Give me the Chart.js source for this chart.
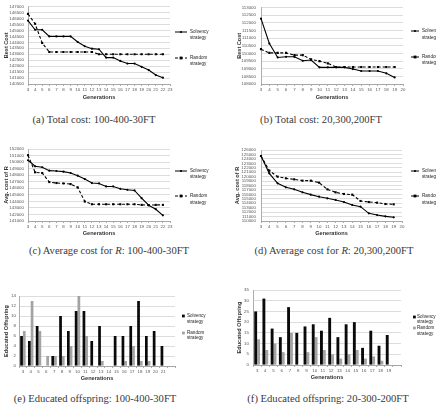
<!DOCTYPE html>
<html><head><meta charset="utf-8">
<script src="https://cdn.jsdelivr.net/npm/chart.js@4.4.1/dist/chart.umd.min.js"></script>
<style>
html,body{margin:0;padding:0;background:#fff}
body{width:436px;height:411px;position:relative;overflow:hidden}
canvas{position:absolute}
.cap{position:absolute;font-family:"Liberation Serif","Times New Roman",serif;font-size:10.6px;color:#3a3a3a;white-space:nowrap;transform:translate(-50%,-50%)}
</style></head><body>
<canvas id="ca" width="218" height="105" style="left:0;top:0"></canvas>
<canvas id="cb" width="218" height="105" style="left:218px;top:0"></canvas>
<canvas id="cc" width="218" height="100" style="left:0;top:140px"></canvas>
<canvas id="cd" width="218" height="100" style="left:218px;top:140px"></canvas>
<canvas id="ce" width="218" height="115" style="left:0;top:270px"></canvas>
<canvas id="cf" width="218" height="115" style="left:218px;top:270px"></canvas>
<div class="cap" style="left:94px;top:119px">(a) Total cost: 100-400-30FT</div>
<div class="cap" style="left:321px;top:119px">(b) Total cost: 20,300,200FT</div>
<div class="cap" style="left:109px;top:250px">(c) Average cost for <i>R</i>: 100-400-30FT</div>
<div class="cap" style="left:334px;top:250px">(d) Average cost for <i>R</i>: 20,300,200FT</div>
<div class="cap" style="left:95px;top:398px">(e) Educated offspring: 100-400-30FT</div>
<div class="cap" style="left:328px;top:398px">(f) Educated offspring: 20-300-200FT</div>
<script>
// ---------- data ----------
const seriesNames = ['Solvency strategy', 'Random strategy'];

const genA = ['3','4','5','6','7','8','9','10','11','12','13','14','15','16','17','18','19','20','21','22','23'];
const solvA = [145830,145060,145060,144500,144500,144500,144500,144030,143670,143470,143420,142720,142720,142440,142220,142220,141940,141670,141250,141030];
const randA = [146390,145560,143940,143190,143190,143190,143190,143190,143190,143190,143000,143000,143000,143000,143000,143000,143000,143000,143000,143000];

const genB = ['3','4','5','6','7','8','9','10','11','12','13','14','15','16','17','18','19','20'];
const solvB = [112280,110650,109740,109780,109780,109520,109570,109090,109090,109090,109090,108980,108850,108850,108850,108700,108430];
const randB = [110280,110040,110040,110040,109890,109890,109610,109500,109350,109110,109110,109110,109110,109110,109110,109110,109110];

const genC = ['3','4','5','6','7','8','9','10','11','12','13','14','15','16','17','18','19','20','21','22','23'];
const solvC = [150280,149360,149210,148690,148640,148540,148330,147920,147410,146800,146740,146280,146280,145920,145770,145670,144490,143410,142800,141870];
const randC = [151050,148440,148330,146950,146800,146740,146640,146130,143970,143560,143560,143560,143560,143560,143560,143560,143460,143410,143460,143460];

const genD = ['3','4','5','6','7','8','9','10','11','12','13','14','15','16','17','18','19','20'];
const solvD = [124650,120740,118490,117590,117140,116460,115940,115480,115110,114730,114280,113610,113230,111730,111350,111050,110830];
const randD = [124650,121350,119990,119620,119390,119090,119090,118640,117140,116460,116090,115940,114510,114280,114130,113830,113760];

const genE = ['3','4','5','6','7','8','9','10','11','12','13','14','15','16','17','18','19','20','21',''];
const solvE = [6,5,8,0,2,10,7,11,11,5,8,0,6,6,8,13,6,7,4];
const randE = [7,13,7,2,2,2,4,14,6,0,1,0,0,1,4,1,1,0,0];

const genF = ['3','4','5','6','7','8','9','10','11','12','13','14','15','16','17','18','19',''];
const solvF = [25,31,17,13,27,15,18,19,16,22,13,19,20,8,16,9,14];
const randF = [12,7,10,6,15,0,6,13,7,5,3,5,7,3,4,2,0];

// ---------- helpers ----------
const FAM = '"Liberation Sans", Arial, sans-serif';
const tickFont = {family: FAM, size: 4.4};
const titleFont = {family: FAM, size: 5.6, weight: 'bold'};

const sideLegend = {
  id: 'sideLegend',
  afterDraw(chart, args, o) {
    if (!o || !o.ys) return;
    const ctx = chart.ctx;
    ctx.save();
    ctx.font = '4.6px ' + FAM;
    ctx.textBaseline = 'middle';
    chart.data.datasets.forEach((ds, i) => {
      const [y1, y2] = o.ys[i];
      const words = ds.label.split(' ');
      if (o.type === 'line') {
        ctx.strokeStyle = '#000';
        ctx.lineWidth = 1;
        ctx.setLineDash(ds.borderDash || []);
        ctx.beginPath(); ctx.moveTo(o.sx, y1); ctx.lineTo(o.sx + o.sw, y1); ctx.stroke();
        ctx.setLineDash([]);
        ctx.fillStyle = '#000';
        const cx = o.sx + o.sw / 2;
        if (ds.pointStyle === 'rect') ctx.fillRect(cx - 1.4, y1 - 1.4, 2.8, 2.8);
        else { ctx.beginPath(); ctx.arc(cx, y1, 1.1, 0, Math.PI * 2); ctx.fill(); }
      } else {
        ctx.fillStyle = ds.backgroundColor;
        ctx.fillRect(o.sx, y1 - 1.4, 2.8, 2.8);
      }
      ctx.fillStyle = '#222';
      ctx.fillText(words[0], o.tx, y1);
      ctx.fillText(words[1], o.tx, y2);
    });
    ctx.restore();
  }
};

function scalesFor(o, isBar) {
  return {
    x: {
      type: 'category',
      offset: isBar,
      grid: {display: true, drawOnChartArea: false, drawTicks: true, tickLength: 2, color: '#aaa'},
      border: {display: true, color: '#999', width: 0.8},
      ticks: {autoSkip: false, maxRotation: 0, minRotation: 0, font: tickFont, color: '#555', padding: o.xlp},
      title: {display: true, text: 'Generations', font: titleFont, color: '#333', padding: {top: 0, bottom: o.xtp}},
      afterFit(s) { s.height = o.xh; }
    },
    y: {
      min: o.min, max: o.max,
      grid: {color: '#d4d4d4', lineWidth: 0.8, drawTicks: false},
      border: {display: true, color: '#999', width: 0.8},
      ticks: {stepSize: o.step, autoSkip: false, font: tickFont, color: '#555', padding: o.ylp, callback: v => String(v)},
      title: {display: true, text: o.ytitle, font: titleFont, color: '#333', padding: {top: o.ytp, bottom: 0}},
      afterFit(s) { s.width = o.yw; }
    }
  };
}

function lineChart(id, labels, s1, s2, o) {
  new Chart(document.getElementById(id), {
    type: 'line',
    data: {labels: labels, datasets: [
      {label: seriesNames[0], data: s1, borderColor: '#000', borderWidth: 1.1, pointStyle: 'circle', pointRadius: 1.1, pointBackgroundColor: '#000', pointBorderWidth: 0, tension: 0, fill: false},
      {label: seriesNames[1], data: s2, borderColor: '#000', borderWidth: 1.1, borderDash: [3, 2], pointStyle: 'rect', pointRadius: 1.5, pointBackgroundColor: '#000', pointBorderWidth: 0, tension: 0, fill: false}
    ]},
    options: {
      responsive: false, animation: false, devicePixelRatio: 1,
      layout: {padding: {left: 0, right: o.pr, top: o.top, bottom: 0}},
      plugins: {legend: {display: false}, tooltip: {enabled: false},
        sideLegend: {type: 'line', sx: o.lsx, sw: o.lsw, tx: o.ltx, ys: o.lys}},
      scales: scalesFor(o, false)
    },
    plugins: [sideLegend]
  });
}

function barChart(id, labels, s1, s2, o) {
  new Chart(document.getElementById(id), {
    type: 'bar',
    data: {labels: labels, datasets: [
      {label: seriesNames[0], data: s1, backgroundColor: '#0a0a0a', borderWidth: 0},
      {label: seriesNames[1], data: s2, backgroundColor: '#a3a3a3', borderWidth: 0}
    ]},
    options: {
      responsive: false, animation: false, devicePixelRatio: 1,
      datasets: {bar: {categoryPercentage: 0.7, barPercentage: 1.0}},
      layout: {padding: {left: 0, right: o.pr, top: o.top, bottom: 0}},
      plugins: {legend: {display: false}, tooltip: {enabled: false},
        sideLegend: {type: 'bar', sx: o.lsx, tx: o.ltx, ys: o.lys}},
      scales: scalesFor(o, true)
    },
    plugins: [sideLegend]
  });
}

// ---------- charts ----------
lineChart('ca', genA, solvA, randA, {min: 140500, max: 147000, step: 500, ytitle: 'Best Cost',
  pr: 48, top: 6, yw: 28, xh: 21, xlp: 1, xtp: 4, ylp: 4, ytp: 3.5,
  lsx: 175, lsw: 12, ltx: 190, lys: [[32, 38], [58, 64]]});

lineChart('cb', genB, solvB, randB, {min: 108000, max: 113000, step: 500, ytitle: 'Best Cost',
  pr: 33, top: 7, yw: 43, xh: 21, xlp: 1, xtp: 4, ylp: 5, ytp: 18,
  lsx: 193, lsw: 8, ltx: 204, lys: [[31, 38], [57, 63]]});

lineChart('cc', genC, solvC, randC, {min: 141000, max: 152000, step: 1000, ytitle: 'Avg. cost of R',
  pr: 48, top: 9, yw: 28, xh: 19, xlp: 1, xtp: 3, ylp: 4, ytp: 3.5,
  lsx: 175, lsw: 12, ltx: 190, lys: [[31, 37], [56, 63]]});

lineChart('cd', genD, solvD, randD, {min: 110000, max: 126000, step: 1000, ytitle: 'Avg. cost of R',
  pr: 34, top: 10, yw: 43, xh: 19, xlp: 1, xtp: 3, ylp: 5, ytp: 16,
  lsx: 193, lsw: 8, ltx: 204, lys: [[31, 37], [56, 63]]});

barChart('ce', genE, solvE, randE, {min: 0, max: 14, step: 2, ytitle: 'Educated Offspring',
  pr: 43, top: 26, yw: 19, xh: 19, xlp: 1, xtp: 3, ylp: 3, ytp: 3.5,
  lsx: 182, ltx: 187, lys: [[46, 52], [63, 68]]});

barChart('cf', genF, solvF, randF, {min: 0, max: 35, step: 5, ytitle: 'Educated Offspring',
  pr: 35, top: 20, yw: 35, xh: 20, xlp: 1, xtp: 4, ylp: 4, ytp: 18,
  lsx: 195, ltx: 199, lys: [[47, 52], [58, 64]]});
</script>
</body></html>
